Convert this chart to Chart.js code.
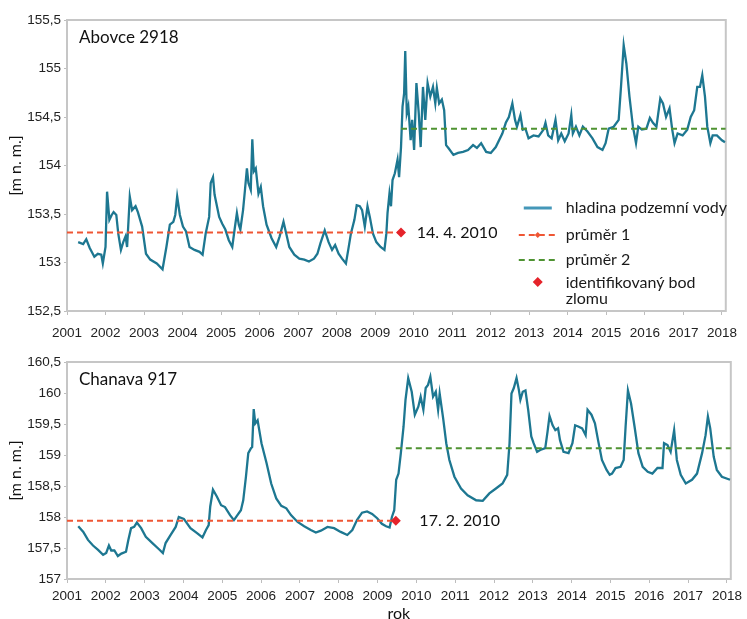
<!DOCTYPE html>
<html>
<head>
<meta charset="utf-8">
<script src="https://cdn.jsdelivr.net/npm/chart.js@4.4.0/dist/chart.umd.min.js"></script>
<style>
  html, body { margin: 0; padding: 0; background: #fff; overflow: hidden; width: 747px; height: 619px; }
  .panel { position: absolute; left: 0; width: 747px; }
  #p1 { top: 0; height: 345px; }
  #p2 { top: 345px; height: 278px; }
</style>
</head>
<body>
<div class="panel" id="p1"><canvas id="c1" width="747" height="345"></canvas></div>
<div class="panel" id="p2"><canvas id="c2" width="747" height="278"></canvas></div>
<script>
// ---- Abovce 2918 : groundwater level [m n. m.] ----
const abovceYears = [2001.29,2001.42,2001.50,2001.59,2001.71,2001.80,2001.89,2001.93,2002.00,2002.04,
  2002.10,2002.16,2002.21,2002.28,2002.33,2002.40,2002.46,2002.52,2002.56,2002.63,
  2002.69,2002.78,2002.84,2002.95,2003.05,2003.16,2003.33,2003.48,2003.58,2003.67,
  2003.76,2003.81,2003.86,2003.93,2004.01,2004.09,2004.18,2004.31,2004.44,2004.52,
  2004.60,2004.69,2004.73,2004.79,2004.83,2004.95,2005.03,2005.11,2005.20,2005.29,
  2005.35,2005.41,2005.46,2005.50,2005.57,2005.62,2005.67,2005.71,2005.77,2005.81,
  2005.85,2005.90,2005.97,2006.03,2006.09,2006.18,2006.31,2006.43,2006.52,2006.62,
  2006.69,2006.77,2006.90,2007.03,2007.16,2007.28,2007.41,2007.50,2007.58,2007.69,
  2007.79,2007.88,2007.96,2008.05,2008.14,2008.24,2008.30,2008.37,2008.46,2008.52,
  2008.60,2008.66,2008.73,2008.80,2008.86,2008.94,2009.03,2009.14,2009.24,2009.29,
  2009.32,2009.37,2009.41,2009.45,2009.51,2009.58,2009.62,2009.67,2009.71,2009.75,
  2009.78,2009.82,2009.86,2009.92,2009.96,2010.01,2010.07,2010.13,2010.18,2010.24,
  2010.30,2010.36,2010.43,2010.50,2010.56,2010.60,2010.66,2010.73,2010.79,2010.84,
  2010.90,2011.03,2011.15,2011.28,2011.41,2011.54,2011.64,2011.75,2011.88,2012.00,
  2012.13,2012.30,2012.39,2012.47,2012.56,2012.63,2012.68,2012.77,2012.83,2012.90,
  2012.98,2013.11,2013.24,2013.37,2013.42,2013.49,2013.58,2013.68,2013.75,2013.83,
  2013.92,2014.02,2014.09,2014.13,2014.21,2014.30,2014.39,2014.51,2014.64,2014.77,
  2014.90,2014.98,2015.06,2015.19,2015.32,2015.38,2015.45,2015.52,2015.60,2015.69,
  2015.77,2015.83,2015.92,2016.04,2016.13,2016.21,2016.30,2016.40,2016.47,2016.55,
  2016.64,2016.71,2016.77,2016.85,2016.98,2017.10,2017.19,2017.28,2017.36,2017.43,
  2017.49,2017.56,2017.62,2017.70,2017.76,2017.87,2018.00,2018.08];
const abovceLevels = [153.21,153.19,153.24,153.15,153.06,153.09,153.08,152.99,153.16,153.73,
  153.44,153.49,153.52,153.49,153.30,153.13,153.21,153.27,153.16,153.68,
  153.54,153.58,153.52,153.37,153.09,153.03,152.99,152.93,153.16,153.39,
  153.42,153.49,153.68,153.49,153.37,153.32,153.16,153.13,153.11,153.08,
  153.30,153.47,153.82,153.88,153.70,153.47,153.40,153.34,153.23,153.16,
  153.34,153.51,153.39,153.34,153.54,153.75,153.97,153.82,153.75,154.27,
  153.94,153.97,153.71,153.78,153.58,153.39,153.25,153.16,153.27,153.42,
  153.30,153.16,153.08,153.04,153.03,153.01,153.04,153.09,153.20,153.33,
  153.21,153.13,153.18,153.09,153.04,152.99,153.13,153.30,153.44,153.59,
  153.58,153.54,153.37,153.58,153.47,153.30,153.21,153.16,153.13,153.30,
  153.51,153.71,153.58,153.85,153.92,154.06,153.88,154.19,154.61,154.74,
  155.18,154.54,154.61,154.26,154.47,154.16,154.85,154.54,154.19,154.81,
  154.47,154.85,154.71,154.81,154.64,154.80,154.64,154.68,154.57,154.21,
  154.18,154.11,154.13,154.14,154.16,154.21,154.18,154.23,154.14,154.13,
  154.19,154.33,154.44,154.50,154.64,154.47,154.40,154.52,154.37,154.38,
  154.28,154.31,154.30,154.37,154.44,154.31,154.28,154.47,154.26,154.33,
  154.25,154.33,154.52,154.33,154.40,154.31,154.40,154.35,154.28,154.19,
  154.16,154.23,154.38,154.40,154.47,154.81,155.24,155.05,154.71,154.40,
  154.23,154.40,154.37,154.38,154.49,154.44,154.40,154.69,154.64,154.50,
  154.59,154.37,154.23,154.33,154.31,154.37,154.50,154.57,154.81,154.81,
  154.93,154.71,154.40,154.23,154.31,154.31,154.26,154.24];
const abovceMeans = [153.31, 154.38];      // průměr 1, průměr 2
const abovceBreakYear = 2009.67;           // identified break point
const abovceBreakText = '14. 4. 2010';
const abovceTicks = [152.5, 155.5];

// ---- Chanava 917 ----
const chanavaYears = [2001.29,2001.42,2001.54,2001.67,2001.80,2001.93,2002.01,2002.08,2002.14,2002.22,
  2002.31,2002.40,2002.52,2002.58,2002.65,2002.73,2002.80,2002.91,2003.03,2003.20,
  2003.37,2003.47,2003.54,2003.67,2003.80,2003.88,2004.01,2004.18,2004.35,2004.49,
  2004.58,2004.65,2004.69,2004.76,2004.86,2004.97,2005.07,2005.20,2005.30,2005.39,
  2005.48,2005.54,2005.61,2005.67,2005.74,2005.77,2005.81,2005.85,2005.91,2006.01,
  2006.14,2006.26,2006.39,2006.52,2006.65,2006.77,2006.94,2007.11,2007.28,2007.41,
  2007.54,2007.71,2007.88,2008.05,2008.22,2008.35,2008.47,2008.60,2008.73,2008.86,
  2008.99,2009.11,2009.22,2009.31,2009.37,2009.43,2009.48,2009.54,2009.60,2009.67,
  2009.72,2009.79,2009.88,2009.96,2010.05,2010.11,2010.18,2010.24,2010.30,2010.36,
  2010.43,2010.50,2010.56,2010.60,2010.69,2010.77,2010.85,2010.98,2011.15,2011.32,
  2011.54,2011.71,2011.88,2012.05,2012.22,2012.34,2012.40,2012.45,2012.51,2012.58,
  2012.64,2012.68,2012.74,2012.81,2012.88,2012.96,2013.02,2013.11,2013.19,2013.32,
  2013.38,2013.43,2013.51,2013.58,2013.65,2013.70,2013.79,2013.92,2014.02,2014.09,
  2014.17,2014.27,2014.36,2014.41,2014.51,2014.60,2014.68,2014.78,2014.90,2014.98,
  2015.04,2015.13,2015.26,2015.34,2015.39,2015.45,2015.53,2015.62,2015.72,2015.83,
  2015.96,2016.08,2016.21,2016.34,2016.38,2016.47,2016.55,2016.64,2016.71,2016.81,
  2016.94,2017.10,2017.23,2017.36,2017.45,2017.51,2017.57,2017.66,2017.74,2017.87,2018.08];
const chanavaLevels = [157.85,157.76,157.63,157.54,157.47,157.39,157.42,157.54,157.46,157.46,
  157.37,157.41,157.44,157.63,157.82,157.84,157.91,157.82,157.68,157.58,
  157.48,157.42,157.58,157.71,157.84,158.00,157.97,157.82,157.74,157.67,
  157.79,157.87,158.17,158.44,158.33,158.19,158.16,158.03,157.95,158.03,
  158.11,158.27,158.65,159.03,159.11,159.13,159.74,159.51,159.56,159.19,
  158.87,158.54,158.30,158.18,158.14,158.03,157.92,157.85,157.79,157.75,
  157.78,157.84,157.82,157.76,157.71,157.79,157.95,158.07,158.09,158.05,
  157.98,157.89,157.85,157.83,158.00,158.11,158.60,158.70,159.03,159.46,
  159.89,160.24,160.02,159.65,159.78,159.94,159.73,160.08,160.13,160.26,
  159.94,160.02,159.73,159.99,159.59,159.19,158.92,158.65,158.46,158.35,
  158.27,158.26,158.38,158.46,158.54,158.68,159.19,159.99,160.08,160.24,
  160.05,159.89,160.02,160.04,159.73,159.30,159.19,159.05,159.08,159.11,
  159.38,159.63,159.48,159.40,159.43,159.24,159.05,159.03,159.19,159.48,
  159.46,159.43,159.32,159.73,159.65,159.51,159.24,158.92,158.76,158.68,
  158.70,158.79,158.81,158.92,159.46,160.04,159.83,159.46,159.03,158.81,
  158.73,158.70,158.79,158.79,159.19,159.16,159.05,159.40,158.92,158.68,
  158.54,158.60,158.70,159.03,159.32,159.62,159.43,158.97,158.76,158.65,158.60];
const chanavaMeans = [157.94, 159.11];
const chanavaBreakYear = 2009.47;
const chanavaBreakText = '17. 2. 2010';
const chanavaTicks = [157, 160.5];

// shared time axis
const yearRange = [2001, 2018.1];
const legendLabels = ['hladina podzemní vody', 'průměr 1', 'průměr 2', 'identifikovaný bod', 'zlomu'];

const SERIES_COLOR = '#1d7791';
const SERIES_LEGEND_COLOR = '#4497b8';
const MEAN1_COLOR = '#ef5634';
const MEAN2_COLOR = '#4f9332';
const BREAK_COLOR = '#e5232a';
const TICK_FONT = { family: "'Liberation Sans', Arial, sans-serif", size: 13.5 };
const TEXT_FONT = "Lato, 'Open Sans', sans-serif";

const toPoints = (xs, ys) => xs.map((x, i) => ({ x, y: ys[i] }));
const withComma = v => String(v).replace('.', ',');

function diamond(ctx, cx, cy, r) {
  ctx.beginPath();
  ctx.moveTo(cx, cy - r); ctx.lineTo(cx + r, cy); ctx.lineTo(cx, cy + r); ctx.lineTo(cx - r, cy);
  ctx.closePath(); ctx.fill();
}

// light grey frame round the plot area
const framePlugin = {
  id: 'plotFrame',
  beforeDatasetsDraw(chart) {
    const { ctx, chartArea: a } = chart;
    ctx.save();
    ctx.strokeStyle = '#c6c6c6';
    ctx.lineWidth = 2;
    ctx.strokeRect(a.left, a.top, a.right - a.left, a.bottom - a.top);
    ctx.restore();
  }
};

// well name, break date and (top panel only) the legend
const panelTextPlugin = {
  id: 'panelText',
  afterDatasetsDraw(chart, args, opts) {
    const { ctx, chartArea: a, scales: { x, y } } = chart;
    ctx.save();
    ctx.fillStyle = '#111';
    ctx.textBaseline = 'middle';
    ctx.textAlign = 'left';
    ctx.font = '17px ' + TEXT_FONT;
    ctx.fillText(opts.name, a.left + 12, a.top + 18);
    ctx.font = '16px ' + TEXT_FONT;
    ctx.fillText(opts.dateText, x.getPixelForValue(2010) + 3, y.getPixelForValue(opts.dateLevel));

    if (opts.legend) {
      const sx = a.right - 207, ex = a.right - 167, tx = a.right - 160, mx = a.right - 188;
      const rows = [a.bottom - 103, a.bottom - 76, a.bottom - 51, a.bottom - 28, a.bottom - 12];
      ctx.lineWidth = 3;
      ctx.strokeStyle = SERIES_LEGEND_COLOR;
      ctx.beginPath(); ctx.moveTo(a.right - 202, rows[0]); ctx.lineTo(a.right - 174, rows[0]); ctx.stroke();
      ctx.lineWidth = 2;
      ctx.setLineDash([6, 4]);
      ctx.strokeStyle = MEAN1_COLOR;
      ctx.beginPath(); ctx.moveTo(sx, rows[1]); ctx.lineTo(ex, rows[1]); ctx.stroke();
      ctx.strokeStyle = MEAN2_COLOR;
      ctx.beginPath(); ctx.moveTo(sx, rows[2]); ctx.lineTo(ex, rows[2]); ctx.stroke();
      ctx.setLineDash([]);
      ctx.fillStyle = MEAN1_COLOR;
      diamond(ctx, mx, rows[1], 3);
      ctx.fillStyle = BREAK_COLOR;
      diamond(ctx, mx, rows[3] - 1, 5);
      ctx.fillStyle = '#1a1a1a';
      ctx.font = '16px ' + TEXT_FONT;
      legendLabels.forEach((t, i) => ctx.fillText(t, tx, rows[i]));
    }
    ctx.restore();
  }
};

function makePanel(canvasId, cfg) {
  return new Chart(document.getElementById(canvasId), {
    type: 'line',
    data: {
      datasets: [
        {
          label: 'identifikovaný bod zlomu',
          data: [{ x: cfg.breakYear, y: cfg.means[0] }],
          showLine: false, pointStyle: 'rectRot', pointRadius: 5,
          pointBackgroundColor: BREAK_COLOR, pointBorderWidth: 0, order: 0
        },
        {
          label: 'průměr 1',
          data: [{ x: yearRange[0], y: cfg.means[0] }, { x: cfg.breakYear, y: cfg.means[0] }],
          borderColor: MEAN1_COLOR, borderWidth: 2, borderDash: [6, 4], pointRadius: 0, order: 1
        },
        {
          label: 'průměr 2',
          data: [{ x: cfg.breakYear, y: cfg.means[1] }, { x: yearRange[1], y: cfg.means[1] }],
          borderColor: MEAN2_COLOR, borderWidth: 2, borderDash: [6, 4], pointRadius: 0, order: 2
        },
        {
          label: 'hladina podzemní vody',
          data: toPoints(cfg.years, cfg.levels),
          borderColor: SERIES_COLOR, borderWidth: 2.3, pointRadius: 0, tension: 0, order: 3
        }
      ]
    },
    options: {
      responsive: false, animation: false, devicePixelRatio: 1,
      layout: { autoPadding: false, padding: { top: cfg.padTop, right: 10, bottom: 0, left: 0 } },
      plugins: {
        legend: { display: false }, tooltip: { enabled: false },
        panelText: { name: cfg.name, dateText: cfg.dateText, dateLevel: cfg.means[0], legend: cfg.legend }
      },
      scales: {
        x: {
          type: 'linear', min: yearRange[0], max: yearRange[1],
          afterFit: s => { s.height = cfg.xAxisHeight; },
          border: { display: false },
          grid: { drawOnChartArea: false, drawTicks: true, tickLength: 4, color: '#bdbdbd' },
          ticks: {
            stepSize: 1, autoSkip: false, includeBounds: false, maxRotation: 0,
            padding: cfg.xTickPad, color: '#222', font: TICK_FONT,
            callback: v => String(v)
          },
          title: {
            display: cfg.xTitle, text: 'rok', color: '#111',
            font: { family: TEXT_FONT, size: 16 }, padding: { top: 0, bottom: 0 }
          }
        },
        y: {
          min: cfg.yRange[0], max: cfg.yRange[1],
          afterFit: s => { s.width = 67; },
          border: { display: false },
          grid: { drawOnChartArea: false, drawTicks: true, tickLength: 3, color: '#bdbdbd' },
          ticks: { stepSize: 0.5, padding: 3, color: '#222', font: TICK_FONT, callback: v => withComma(v) },
          title: {
            display: true, text: '[m n. m.]', color: '#111',
            font: { family: TEXT_FONT, size: 16 }, padding: { top: 6, bottom: 0 }
          }
        }
      }
    },
    plugins: [framePlugin, panelTextPlugin]
  });
}

makePanel('c1', {
  name: 'Abovce 2918', years: abovceYears, levels: abovceLevels, means: abovceMeans,
  breakYear: abovceBreakYear, dateText: abovceBreakText, yRange: abovceTicks,
  padTop: 20, xAxisHeight: 34, xTickPad: 10, xTitle: false, legend: true
});
makePanel('c2', {
  name: 'Chanava 917', years: chanavaYears, levels: chanavaLevels, means: chanavaMeans,
  breakYear: chanavaBreakYear, dateText: chanavaBreakText, yRange: chanavaTicks,
  padTop: 17, xAxisHeight: 44, xTickPad: 5, xTitle: true, legend: false
});
</script>
</body>
</html>
